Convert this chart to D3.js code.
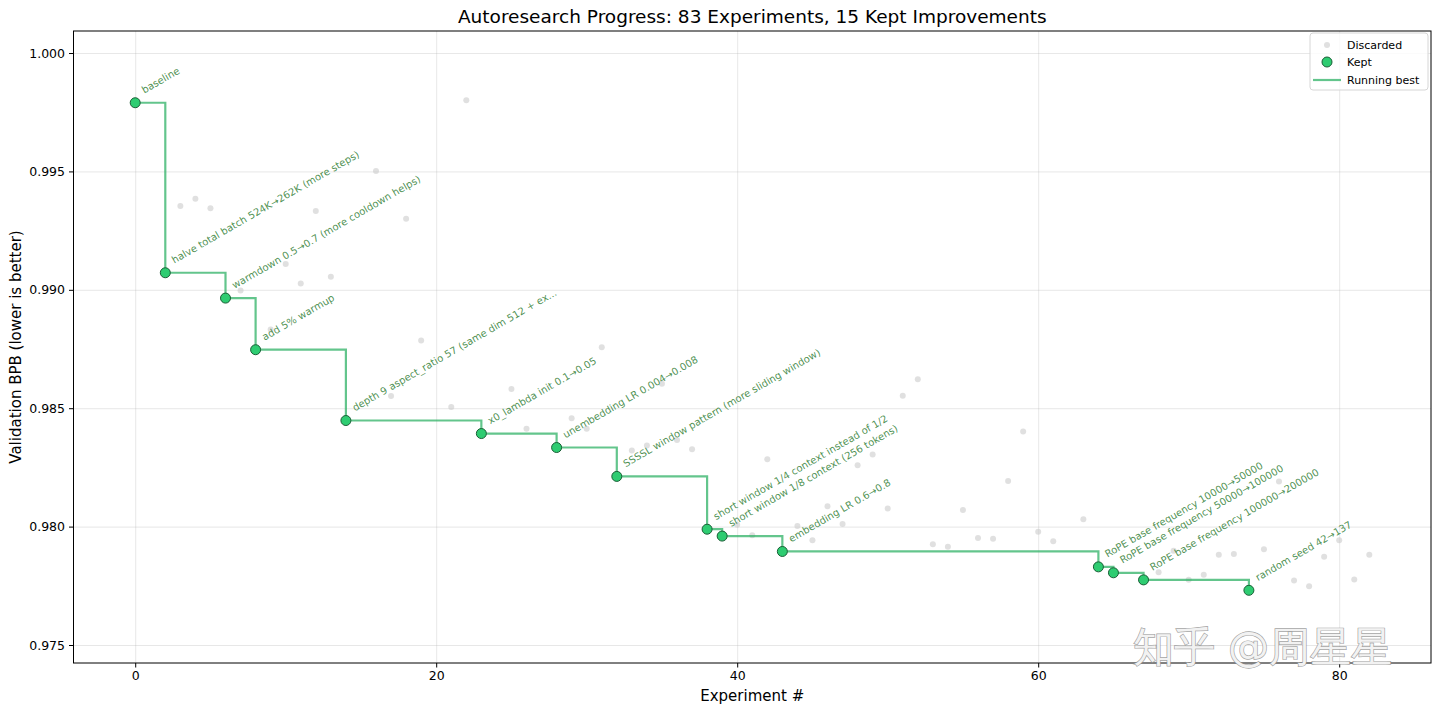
<!DOCTYPE html>
<html>

<head>
  <title>Autoresearch Progress</title>
  <script src="https://d3js.org/d3.v7.min.js"></script>
  <style>
    body { margin: 0; background: #fff; }
    svg text { font-family: "DejaVu Sans", sans-serif; }
    .gridlines line { stroke: #b0b0b0; stroke-opacity: 0.3; }
    .gridlines .domain { stroke: none; }
    .axis path, .axis line { stroke: #000; }
  </style>
</head>

<body>
  <svg id="svg" height="713" width="1440"></svg>
  <script>
    // ************************ Data ************************
    const keptExp = [0, 2, 6, 8, 14, 23, 28, 32, 38, 39, 43, 64, 65, 67, 74];
    const keptBpb = [0.99790, 0.99072, 0.98965, 0.98747, 0.98448, 0.98393, 0.98334, 0.98212,
      0.97989, 0.97960, 0.97895, 0.97830, 0.97805, 0.97775, 0.97731];
    const keptLabels = [
      "baseline",
      "halve total batch 524K\u2192262K (more steps)",
      "warmdown 0.5\u21920.7 (more cooldown helps)",
      "add 5% warmup",
      "depth 9 aspect_ratio 57 (same dim 512 + ex...",
      "x0_lambda init 0.1\u21920.05",
      "unembedding LR 0.004\u21920.008",
      "SSSSL window pattern (more sliding window)",
      "short window 1/4 context instead of 1/2",
      "short window 1/8 context (256 tokens)",
      "embedding LR 0.6\u21920.8",
      "RoPE base frequency 10000\u219250000",
      "RoPE base frequency 50000\u2192100000",
      "RoPE base frequency 100000\u2192200000",
      "random seed 42\u2192137"
    ];

    const discExp = [3, 4, 5, 7, 9, 10, 11, 12, 13, 16, 17, 18, 19, 21, 22, 25, 26, 29, 30, 31,
      33, 34, 35, 36, 37, 40, 41, 42, 44, 45, 46, 47, 48, 49, 50, 51, 52, 53, 54, 55,
      56, 57, 58, 59, 60, 61, 63, 68, 69, 70, 71, 72, 73, 75, 76, 77, 78, 79, 80, 81, 82];
    const discBpb = [0.99354, 0.99385, 0.99344, 0.98997, 0.98832, 0.99109, 0.99027, 0.99333, 0.99055, 0.99502,
      0.98552, 0.99300, 0.98786, 0.98505, 0.99801, 0.98581, 0.98413, 0.98458, 0.98413, 0.98757,
      0.98321, 0.98342, 0.98603, 0.98366, 0.98327, 0.98008, 0.97963, 0.98284, 0.98003, 0.97942,
      0.98086, 0.98011, 0.98259, 0.98305, 0.98076, 0.98553, 0.98622, 0.97925, 0.97915, 0.98070,
      0.97952, 0.97949, 0.98193, 0.98402, 0.97978, 0.97938, 0.98031, 0.97807, 0.97898, 0.97776,
      0.97797, 0.97881, 0.97884, 0.97904, 0.98191, 0.97772, 0.97748, 0.97873, 0.97942, 0.97777,
      0.97881];

    const xTicks = [0, 20, 40, 60, 80];
    const yTicks = [0.975, 0.980, 0.985, 0.990, 0.995, 1.000];
    const xDomain = [-4.1, 86.1];
    const yDomain = [0.97424, 1.00093];

    const titleText = "Autoresearch Progress: 83 Experiments, 15 Kept Improvements";
    const legendLabels = ["Discarded", "Kept", "Running best"];

    const kept = keptExp.map((e, i) => ({ exp: e, bpb: keptBpb[i], label: keptLabels[i] }));
    const discarded = discExp.map((e, i) => ({ exp: e, bpb: discBpb[i] }));

    // ************************ Layout ************************
    const svg = d3.select("#svg");
    const width = +svg.attr("width");
    const height = +svg.attr("height");
    const margins = { top: 31, right: 9, bottom: 50, left: 73.5 };
    const chartWidth = width - margins.left - margins.right;
    const chartHeight = height - margins.top - margins.bottom;

    const keptColor = "#2ecc71";
    const lineColor = "#27ae60";
    const textGreen = "#2e7d32";

    // ************************ Scales ************************
    const xScale = d3.scaleLinear().domain(xDomain).range([0, chartWidth]);
    const yScale = d3.scaleLinear().domain(yDomain).range([chartHeight, 0]);

    let gridlines = svg.append("g").attr("class", "gridlines")
      .attr("transform", `translate(${margins.left}, ${margins.top})`);
    let chartArea = svg.append("g").attr("id", "chartArea")
      .attr("transform", `translate(${margins.left}, ${margins.top})`);
    let axis = svg.append("g").attr("id", "axis");

    // ************************ Gridlines ************************
    gridlines.append("g")
      .call(d3.axisLeft(yScale).tickValues(yTicks).tickSize(-chartWidth).tickFormat(""));
    gridlines.append("g")
      .attr("transform", `translate(0, ${chartHeight})`)
      .call(d3.axisBottom(xScale).tickValues(xTicks).tickSize(-chartHeight).tickFormat(""));

    // ************************ Discarded points ************************
    chartArea.selectAll("circle.disc")
      .data(discarded)
      .join("circle")
      .attr("class", "disc")
      .attr("r", 3)
      .attr("fill", "#cccccc")
      .attr("fill-opacity", 0.6)
      .attr("cx", d => xScale(d.exp))
      .attr("cy", d => yScale(d.bpb));

    // ************************ Running best ************************
    const lineGenerator = d3.line()
      .x(d => xScale(d.exp))
      .y(d => yScale(d.bpb))
      .curve(d3.curveStepAfter);

    chartArea.append("path")
      .datum(kept)
      .attr("fill", "none")
      .attr("stroke", lineColor)
      .attr("stroke-opacity", 0.72)
      .attr("stroke-width", 2.2)
      .attr("d", lineGenerator);

    // ************************ Kept points ************************
    chartArea.selectAll("circle.kept")
      .data(kept)
      .join("circle")
      .attr("class", "kept")
      .attr("r", 5)
      .attr("fill", keptColor)
      .attr("stroke", "#1a5e36")
      .attr("stroke-width", 1)
      .attr("cx", d => xScale(d.exp))
      .attr("cy", d => yScale(d.bpb));

    // annotations
    chartArea.selectAll("text.note")
      .data(kept)
      .join("text")
      .attr("class", "note")
      .attr("transform", d => `translate(${xScale(d.exp) + 9}, ${yScale(d.bpb) - 9}) rotate(-30)`)
      .attr("font-size", 10)
      .attr("fill", textGreen)
      .attr("fill-opacity", 0.85)
      .text(d => d.label);

    // ************************ Axes ************************
    const leftAxis = d3.axisLeft(yScale).tickValues(yTicks).tickFormat(d3.format(".3f"))
      .tickSize(4.5).tickPadding(4);
    const bottomAxis = d3.axisBottom(xScale).tickValues(xTicks).tickFormat(d3.format("d"))
      .tickSize(4.5).tickPadding(4);

    axis.append("g").attr("class", "y axis")
      .attr("transform", `translate(${margins.left}, ${margins.top})`)
      .call(leftAxis);
    axis.append("g").attr("class", "x axis")
      .attr("transform", `translate(${margins.left}, ${margins.top + chartHeight})`)
      .call(bottomAxis);
    axis.selectAll(".domain").remove();
    axis.selectAll("text")
      .attr("font-family", "DejaVu Sans")
      .attr("font-size", 12.5)
      .attr("fill", "#000");

    // frame
    svg.append("rect")
      .attr("x", margins.left).attr("y", margins.top)
      .attr("width", chartWidth).attr("height", chartHeight)
      .attr("fill", "none").attr("stroke", "#000").attr("stroke-width", 1);

    // ************************ Labels ************************
    svg.append("text")
      .attr("x", margins.left + chartWidth / 2).attr("y", 22.5)
      .attr("text-anchor", "middle").attr("font-size", 18.5)
      .text(titleText);
    svg.append("text")
      .attr("x", margins.left + chartWidth / 2).attr("y", 701)
      .attr("text-anchor", "middle").attr("font-size", 15)
      .text("Experiment #");
    svg.append("text")
      .attr("transform", `translate(21, ${margins.top + chartHeight / 2}) rotate(-90)`)
      .attr("text-anchor", "middle").attr("font-size", 15)
      .text("Validation BPB (lower is better)");

    // ************************ Legend ************************
    const legend = svg.append("g").attr("transform", "translate(1310, 33)");
    legend.append("rect")
      .attr("width", 118).attr("height", 57).attr("rx", 3)
      .attr("fill", "#fff").attr("fill-opacity", 0.8)
      .attr("stroke", "#d6d6d6");
    legend.append("circle").attr("cx", 17).attr("cy", 12).attr("r", 3)
      .attr("fill", "#cccccc").attr("fill-opacity", 0.6);
    legend.append("circle").attr("cx", 17).attr("cy", 29).attr("r", 5)
      .attr("fill", keptColor).attr("stroke", "#1a5e36");
    legend.append("line").attr("x1", 3).attr("x2", 31).attr("y1", 47).attr("y2", 47)
      .attr("stroke", lineColor).attr("stroke-opacity", 0.72).attr("stroke-width", 2.2);
    legend.selectAll("text.leg")
      .data(legendLabels)
      .join("text")
      .attr("class", "leg")
      .attr("x", 37)
      .attr("y", (d, i) => [12, 29, 47][i])
      .attr("dy", "0.35em")
      .attr("font-size", 11)
      .text(d => d);

    // watermark
    svg.append("text")
      .attr("x", 1133).attr("y", 661)
      .attr("font-family", "Noto Sans CJK SC")
      .attr("font-size", 41)
      .attr("fill", "#f2f2f2")
      .attr("stroke", "#8c8c8c")
      .attr("stroke-width", 1.4)
      .attr("stroke-opacity", 0.8)
      .style("paint-order", "stroke")
      .text("知乎 @周星星");
  </script>

</body>

</html>
